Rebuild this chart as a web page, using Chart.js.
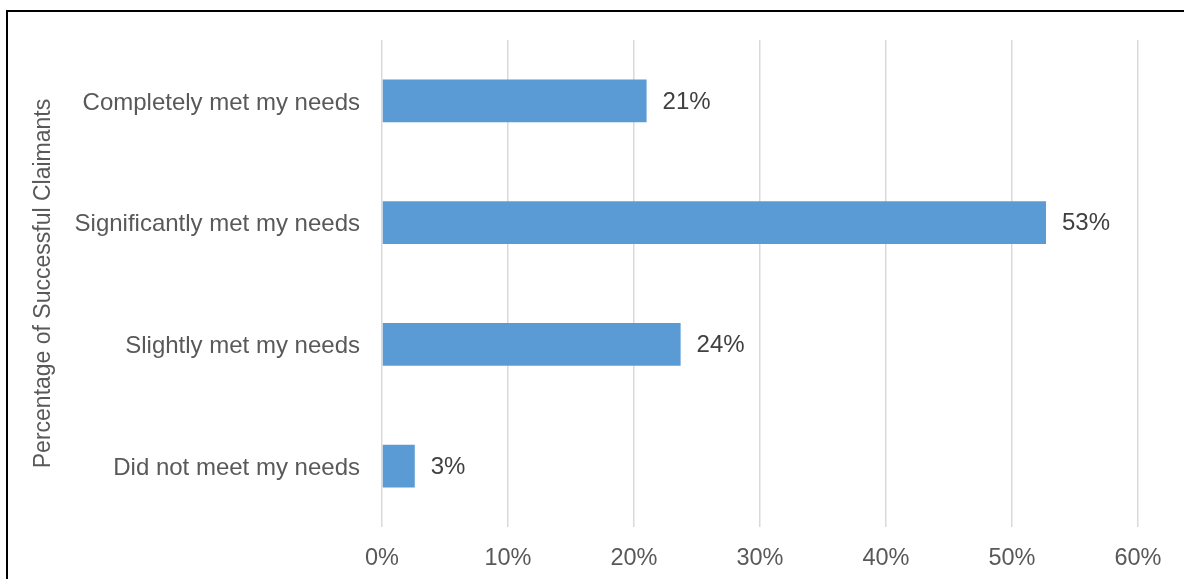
<!DOCTYPE html>
<html>
<head>
<meta charset="utf-8">
<script src="https://cdn.jsdelivr.net/npm/chart.js@4.4.1/dist/chart.umd.min.js"></script>
<style>
  html, body { margin: 0; padding: 0; background: #fff; overflow: hidden; }
  #wrap { position: relative; width: 1184px; height: 579px; overflow: hidden; }
  #frame { position: absolute; left: 6px; top: 10px; width: 1220px; height: 620px; border: 2px solid #000; box-sizing: border-box; }
  #c { position: absolute; left: 0; top: 0; }
</style>
</head>
<body>
<div id="wrap">
  <div id="frame"></div>
  <canvas id="c" width="1184" height="579"></canvas>
</div>
<script>
const categories = ["Completely met my needs", "Significantly met my needs", "Slightly met my needs", "Did not meet my needs"];
const values = [21.0, 52.7, 23.7, 2.6];
const xTicks = [0, 10, 20, 30, 40, 50, 60];
const axisTitle = "Percentage of Successful Claimants";

const FONT = '"Liberation Sans", Arial, sans-serif';

const dataLabels = {
  id: 'dataLabels',
  afterDatasetsDraw(chart) {
    const ctx = chart.ctx;
    const meta = chart.getDatasetMeta(0);
    ctx.save();
    ctx.font = '24px ' + FONT;
    ctx.fillStyle = '#404040';
    ctx.textAlign = 'left';
    ctx.textBaseline = 'middle';
    meta.data.forEach((bar, i) => {
      ctx.fillText(Math.round(values[i]) + '%', bar.x + 16, bar.y + 1);
    });
    ctx.restore();
  }
};

new Chart(document.getElementById('c'), {
  type: 'bar',
  data: {
    labels: categories,
    datasets: [{
      data: values,
      backgroundColor: '#5B9BD5',
      borderWidth: 0,
      barPercentage: 0.353,
      categoryPercentage: 1.0
    }]
  },
  options: {
    indexAxis: 'y',
    responsive: false,
    animation: false,
    devicePixelRatio: 1,
    layout: { padding: { left: 30, top: 40, right: 46, bottom: 0 } },
    plugins: { legend: { display: false }, tooltip: { enabled: false } },
    scales: {
      x: {
        min: 0, max: 60,
        afterBuildTicks(scale) { scale.ticks = xTicks.map(v => ({ value: v })); },
        afterFit(scale) { scale.height = 52; },
        grid: { color: '#D9D9D9', lineWidth: 1.5, drawTicks: false },
        border: { display: false },
        ticks: {
          padding: 17,
          color: '#595959',
          font: { family: FONT, size: 23.5 },
          callback: v => v + '%'
        }
      },
      y: {
        afterFit(scale) { scale.width = 382 - 30; },
        grid: { display: false, drawTicks: false },
        border: { display: false },
        ticks: {
          padding: 22,
          labelOffset: 2,
          color: '#595959',
          font: { family: FONT, size: 24 }
        },
        title: {
          display: true,
          text: axisTitle,
          color: '#595959',
          font: { family: FONT, size: 23 },
          padding: 0
        }
      }
    }
  },
  plugins: [dataLabels]
});
</script>
</body>
</html>
